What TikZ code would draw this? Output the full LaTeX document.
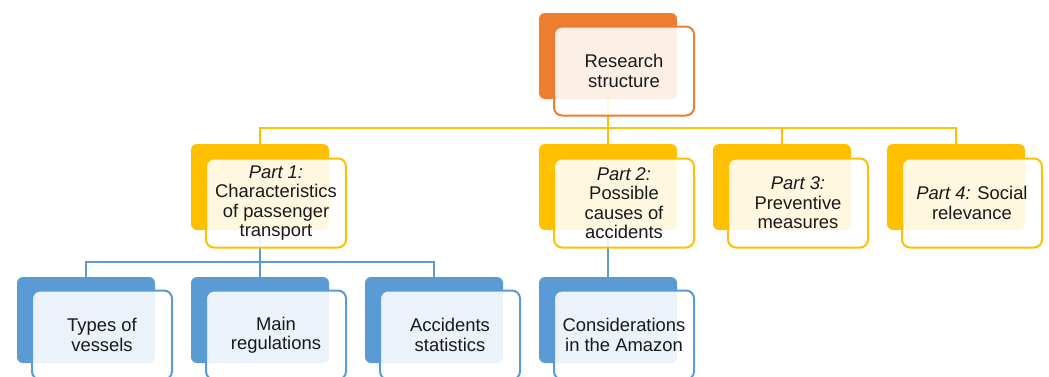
\documentclass[tikz,border=0pt]{standalone}
\usepackage{fontspec}
\setmainfont{Liberation Sans}
\usepackage{tikz}
\definecolor{toporange}{RGB}{237,125,49}
\definecolor{partyellow}{RGB}{255,192,0}
\definecolor{subblue}{RGB}{91,155,213}
\definecolor{boxtext}{RGB}{25,25,25}

\begin{document}
\begin{tikzpicture}[x=1pt,y=-1pt,
  every node/.style={font=\fontsize{18.4}{19.5}\selectfont,text=boxtext},
  backbox/.style={fill=#1,rounded corners=6pt,minimum width=138pt,minimum height=86pt,inner sep=0pt},
  frontbox/.style={draw=#1,line width=2pt,fill=white,fill opacity=0.88,text opacity=1,
    rounded corners=8pt,minimum width=140pt,minimum height=89pt,inner sep=2pt,align=center},
  link/.style={draw=#1,line width=2.4pt}]
  \clip (0,0) rectangle (1049,376);
  \coordinate (ybar) at (0,128);
  \coordinate (bbar) at (0,262);
  \node[backbox=toporange] (topb) at (608,56) {};
  \node[backbox=partyellow] (p1b) at (260,187) {};
  \node[backbox=partyellow] (p2b) at (608,187) {};
  \node[backbox=partyellow] (p3b) at (782,187) {};
  \node[backbox=partyellow] (p4b) at (956,187) {};
  \node[backbox=subblue] (b1b) at (86,320) {};
  \node[backbox=subblue] (b2b) at (260,320) {};
  \node[backbox=subblue] (b3b) at (434,320) {};
  \node[backbox=subblue] (b4b) at (608,320) {};
  \draw[link=partyellow] (topb.south) -- (p2b.north);
  \draw[link=partyellow] (p1b.north) -- (p1b.north |- ybar) -- (p4b.north |- ybar) -- (p4b.north);
  \draw[link=partyellow] (p3b.north |- ybar) -- (p3b.north);
  \draw[link=subblue] (p1b.south) -- (b2b.north);
  \draw[link=subblue] (b1b.north) -- (b1b.north |- bbar) -- (b3b.north |- bbar) -- (b3b.north);
  \draw[link=subblue] (p2b.south) -- (b4b.north);
  \node[frontbox=toporange] (topf) at (624,71) {Research\\structure};
  \node[frontbox=partyellow] (p1f) at (276,203) {\textit{Part 1:}\\Characteristics\\of passenger\\transport};
  \node[frontbox=partyellow] (p2f) at (624,203) {\textit{Part 2:}\\Possible\\causes of\\accidents};
  \node[frontbox=partyellow] (p3f) at (798,203) {\textit{Part 3:}\\Preventive\\measures};
  \node[frontbox=partyellow] (p4f) at (972,203) {\textit{Part 4:} Social\\relevance};
  \node[frontbox=subblue] (b1f) at (102,335) {Types of\\vessels};
  \node[frontbox=subblue] (b2f) at (276,335) {Main\\regulations};
  \node[frontbox=subblue] (b3f) at (450,335) {Accidents\\statistics};
  \node[frontbox=subblue] (b4f) at (624,335) {Considerations\\in the Amazon};
\end{tikzpicture}
\end{document}
